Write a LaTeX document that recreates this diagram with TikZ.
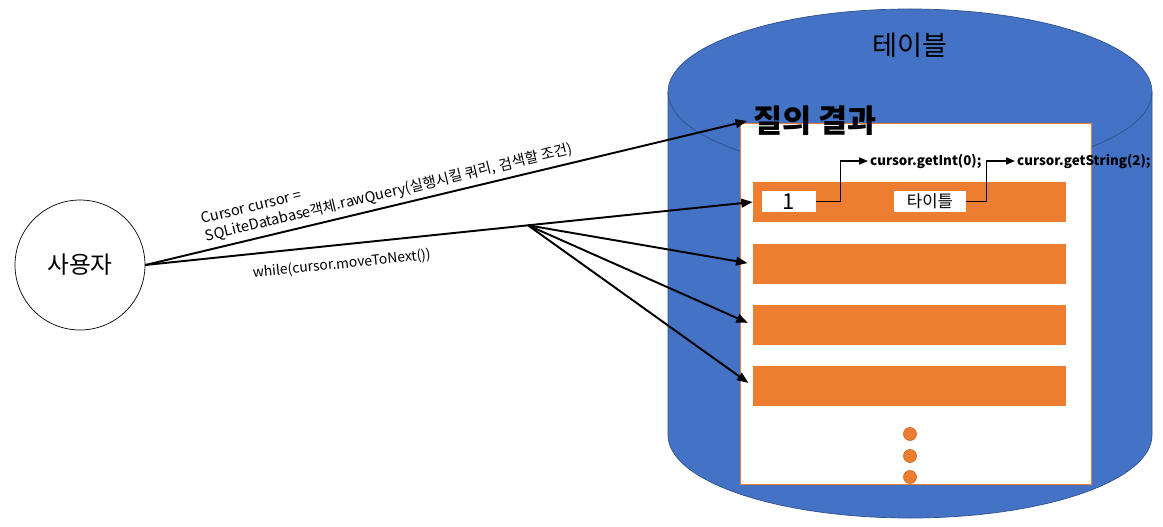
\documentclass[tikz,border=0pt]{standalone}
\usepackage{fontspec}
\setmainfont{Noto Sans CJK KR}
\usepackage{tikz}
\usetikzlibrary{positioning,calc,arrows.meta}
\definecolor{tblblue}  {HTML}{4472C4}
\definecolor{tbledge}  {HTML}{2F528F}
\definecolor{rowfill}  {HTML}{ED7D31}
\definecolor{rowedge}  {HTML}{C55A11}
\tikzset{
  % --- nodes
  actor/.style = {circle, draw=black, fill=white, minimum size=2.6cm,
                  font=\fontsize{13.5}{15}\selectfont},
  result/.style= {draw=rowfill, fill=white, minimum width=7.02cm, minimum height=7.22cm,
                  inner sep=0pt},
  row/.style   = {fill=rowfill, minimum width=6.26cm, minimum height=0.8cm, inner sep=0pt},
  cell/.style  = {fill=white, minimum height=0.42cm, inner sep=0pt},
  call/.style  = {font=\bfseries\fontsize{7.6}{8.6}\selectfont, anchor=west, inner sep=1pt},
  lbl/.style   = {font=\fontsize{8.3}{10.2}\selectfont, sloped, inner sep=1.5pt},
  more/.style  = {circle, fill=rowfill, draw=rowedge, line width=0.3pt,
                  minimum size=0.26cm, inner sep=0pt},
  % --- edges
  e/.style     = {-{Triangle[length=6.5pt,width=5pt]}, line width=1.1pt, draw=black},
  ethin/.style = {-{Triangle[length=5pt,width=4pt]}, line width=0.75pt, draw=black},
}
\begin{document}
\begin{tikzpicture}[x=0.02cm, y=-0.02cm]
  \useasboundingbox (0,0) rectangle (1163,527);

  % table cylinder
  \fill[tblblue, draw=tbledge, line width=0.4pt]
    (668,92) -- (668,435) arc[start angle=180, end angle=0, x radius=242, y radius=83]
    -- (1152,92) arc[start angle=0, end angle=-180, x radius=242, y radius=83] -- cycle;
  \draw[tbledge, line width=0.4pt]
    (668,92) arc[start angle=180, end angle=0, x radius=242, y radius=83];
  \node[font=\fontsize{15.5}{17}\selectfont] (table) at (910,45) {테이블};

  % query result
  \node[result] (res) at (915.5,303.5) {};
  \node[font=\bfseries\fontsize{18}{20}\selectfont] (title) at (815,121) {질의 결과};
  \foreach \i/\y in {1/202,2/264,3/325,4/386}
    \node[row] (bar\i) at (909.5,\y) {};
  \node[cell, minimum width=1.08cm, font=\fontsize{12.5}{14}\selectfont] (col1) at (789,201.5) {1};
  \node[cell, minimum width=1.44cm, font=\fontsize{9.5}{10}\selectfont] (col2) at (930,201.5) {타이틀};
  \node[call] (getint) at (868,161) {cursor.getInt(0);};
  \node[call] (getstr) at (1015,161) {cursor.getString(2);};
  \draw[ethin] (col1.east) -- ++(24,0) |- (getint.west);
  \draw[ethin] (col2.east) -- ++(20,0) |- (getstr.west);
  \foreach \i/\y in {1/434,2/456,3/477}
    \node[more] (dot\i) at (910,\y) {};

  % user
  \node[actor] (user) at (80,265) {사용자};
  \draw[e] (user.east) -- node[lbl, above=1pt, pos=0.41, align=left]
    {Cursor cursor =\\SQLiteDatabase객체.rawQuery(실행시킬 쿼리, 검색할 조건)} (title.west);
  \draw[e] (user.east) -- node[lbl, below=5pt, pos=0.32, font=\fontsize{7.9}{9}\selectfont]
    {while(cursor.moveToNext())}
    coordinate[pos=0.63] (fork) (bar1.west);
  \foreach \i in {2,3,4}
    \draw[e, shorten >=3pt] (fork) -- (bar\i.west);
\end{tikzpicture}
\end{document}
